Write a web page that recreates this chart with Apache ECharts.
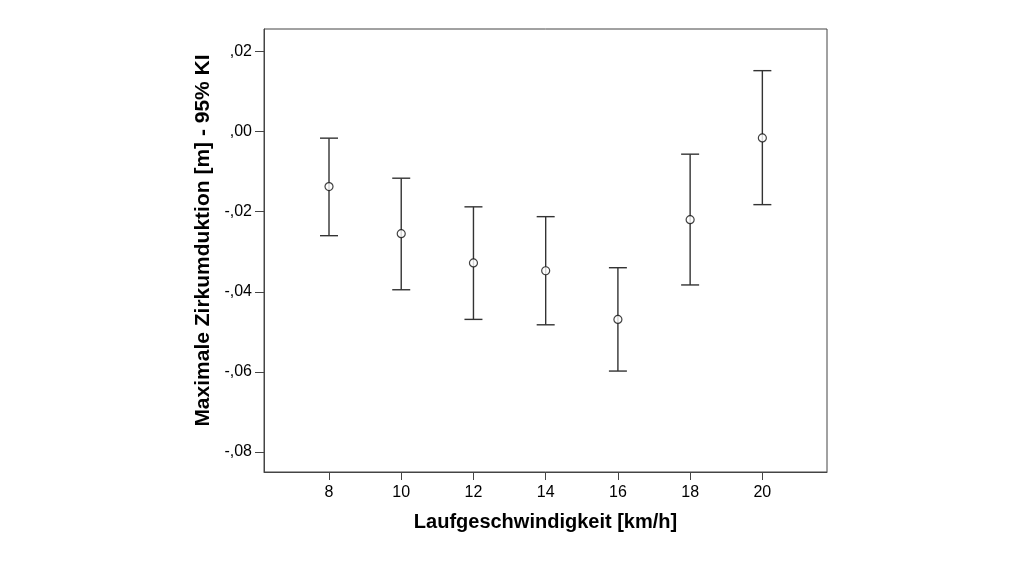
<!DOCTYPE html>
<html>
<head>
<meta charset="utf-8">
<script src="https://cdn.jsdelivr.net/npm/echarts@6/dist/echarts.min.js"></script>
<style>html,body{margin:0;padding:0;background:#fff}#c{width:1024px;height:576px}</style>
</head>
<body>
<div id="c"></div>
<script>
const speeds = [8, 10, 12, 14, 16, 18, 20];
const means = [-0.01375, -0.0255, -0.0328, -0.03475, -0.0469, -0.022, -0.0016];
const upper = [-0.00165, -0.01165, -0.0188, -0.02125, -0.034, -0.00565, 0.0152];
const lower = [-0.026, -0.0395, -0.0469, -0.04825, -0.0598, -0.0383, -0.01825];
const yTicks = [-0.08, -0.06, -0.04, -0.02, 0, 0.02];
const xTicks = [8, 10, 12, 14, 16, 18, 20];

const chart = echarts.init(document.getElementById('c'));
const fmtY = v => {
  const s = Math.abs(v).toFixed(2).replace(/^0\./, ',');
  return (v < -1e-9 ? '-' : '') + s;
};
const errData = speeds.map((s, i) => [s, lower[i], upper[i]]);
const lineColor = '#333';
chart.setOption({
  animation: false,
  backgroundColor: '#fff',
  grid: { left: 264, right: 197, top: 29, bottom: 104, show: true, borderColor: '#444', borderWidth: 1 },
  xAxis: {
    type: 'value', min: 6.2, max: 21.79,
    name: 'Laufgeschwindigkeit [km/h]', nameLocation: 'middle', nameGap: 40,
    nameTextStyle: { fontFamily: 'Liberation Sans', fontWeight: 'bold', fontSize: 20, color: '#000' },
    axisLine: { show: true, onZero: false, lineStyle: { color: '#444', width: 1 } },
    axisTick: { show: true, length: 8, inside: false, customValues: xTicks, lineStyle: { color: '#444' } },
    axisLabel: { customValues: xTicks, fontFamily: 'Liberation Sans', fontSize: 16, color: '#000', margin: 13 },
    splitLine: { show: false }
  },
  yAxis: {
    type: 'value', min: -0.085, max: 0.0256,
    name: 'Maximale Zirkumduktion [m] - 95% KI', nameLocation: 'middle', nameGap: 48, nameRotate: 90,
    nameTextStyle: { fontFamily: 'Liberation Sans', fontWeight: 'bold', fontSize: 21, color: '#000', padding: [0, 0, 0, 20] },
    axisLine: { show: true, onZero: false, lineStyle: { color: '#444', width: 1 } },
    axisTick: { show: true, length: 9, customValues: yTicks, lineStyle: { color: '#444' } },
    axisLabel: { customValues: yTicks, formatter: fmtY, fontFamily: 'Liberation Sans', fontSize: 16, color: '#000', margin: 12 },
    splitLine: { show: false }
  },
  series: [
    {
      type: 'custom',
      data: errData,
      renderItem: function (params, api) {
        const x = api.value(0);
        const lo = api.coord([x, api.value(1)]);
        const hi = api.coord([x, api.value(2)]);
        const hw = 9;
        const st = { stroke: lineColor, lineWidth: 1.4 };
        return {
          type: 'group',
          children: [
            { type: 'line', shape: { x1: hi[0], y1: hi[1], x2: lo[0], y2: lo[1] }, style: st },
            { type: 'line', shape: { x1: hi[0] - hw, y1: hi[1], x2: hi[0] + hw, y2: hi[1] }, style: st },
            { type: 'line', shape: { x1: lo[0] - hw, y1: lo[1], x2: lo[0] + hw, y2: lo[1] }, style: st }
          ]
        };
      },
      z: 2
    },
    {
      type: 'scatter',
      data: speeds.map((s, i) => [s, means[i]]),
      symbol: 'circle', symbolSize: 8,
      itemStyle: { color: '#fff', borderColor: '#111', borderWidth: 1.2 },
      z: 3
    }
  ]
});
</script>
</body>
</html>
